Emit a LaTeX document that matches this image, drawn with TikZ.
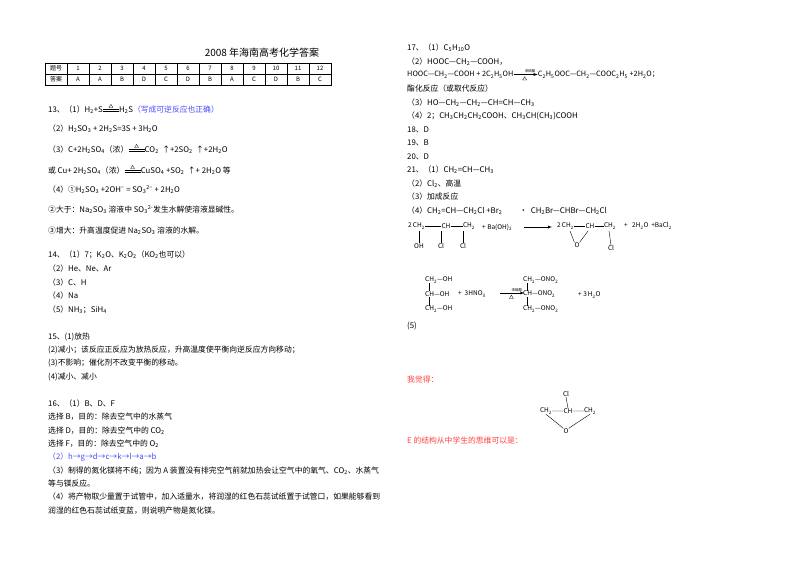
\documentclass[tikz,border=0pt]{standalone}
\usepackage{fontspec}
\setmainfont{Noto Sans CJK SC}
\newcommand{\sbs}[1]{\textsubscript{#1}}
\newcommand{\sps}[1]{\textsuperscript{#1}}
\newcommand{\heq}{\tikz[baseline=0pt,x=1pt,y=1pt]{\draw[line width=0.4pt](0,1.2)--(16,1.2) (0,3)--(16,3);\draw[line width=0.3pt](6,5)--(10,5)--(8,8.2)--cycle;}}
\newcommand{\carr}{\tikz[baseline=0pt,x=1pt,y=1pt]{\draw[-latex,line width=0.4pt](0,2.5)--(24,2.5);\node[font=\fontsize{3.5}{4}\selectfont,inner sep=0] at (11,5.5){浓硫酸};\draw[line width=0.3pt](9,-3)--(13,-3)--(11,0.3)--cycle;}}
\begin{document}
\begin{tikzpicture}[x=1pt,y=-1pt,
 txt/.style={anchor=west,inner sep=0,font=\fontsize{7.8}{9}\selectfont},
 blue/.style={text=blue!70!white},
 red/.style={text=red!75!white},
 cell/.style={inner sep=0,font=\fontsize{6}{7}\selectfont}]
\useasboundingbox[fill=white] (0,0) rectangle (800,566);
\node[inner sep=0,font=\fontsize{10}{11}\selectfont] (title) at (262,53) {2008 年海南高考化学答案};
% table
\draw[line width=0.4pt] (45,63) rectangle (331,85);
\draw[line width=0.4pt] (45,74) -- (331,74);
\foreach \i in {0,...,12} {\draw[line width=0.4pt] ({67+22*\i},63) -- ({67+22*\i},85);}
\node[cell] (h1) at (56,68.5) {题号};
\node[cell] (h2) at (56,79.5) {答案};
\foreach \n/\a [count=\i from 0] in {1/A,2/A,3/B,4/D,5/C,6/D,7/B,8/A,9/C,10/D,11/B,12/C} {
 \node[cell] (n\n) at ({78+22*\i},68.5) {\n};
 \node[cell] (a\n) at ({78+22*\i},79.5) {\a};}
% left column
\node[txt] (l1) at (48,109) {13、（1）H\sbs{2}+S\heq H\sbs{2}S\textcolor{blue!70!white}{（写成可逆反应也正确）}};
\node[txt] (l2) at (48,129) {（2）H\sbs{2}SO\sbs{3} + 2H\sbs{2}S=3S + 3H\sbs{2}O};
\node[txt] (l3) at (48,149) {（3）C+2H\sbs{2}SO\sbs{4}（浓）\heq CO\sbs{2}\ \ ↑+2SO\sbs{2}\ \ ↑+2H\sbs{2}O};
\node[txt] (l4) at (48,170) {或 Cu+ 2H\sbs{2}SO\sbs{4}（浓）\heq CuSO\sbs{4} +SO\sbs{2}\ \ ↑+ 2H\sbs{2}O 等};
\node[txt] (l5) at (48,190) {（4）①H\sbs{2}SO\sbs{3} +2OH\sps{−} = SO\sbs{3}\sps{2−} + 2H\sbs{2}O};
\node[txt] (l6) at (48,210) {②大于：Na\sbs{2}SO\sbs{3} 溶液中 SO\sbs{3}\sps{2-}发生水解使溶液显碱性。};
\node[txt] (l7) at (48,231) {③增大：升高温度促进 Na\sbs{2}SO\sbs{3} 溶液的水解。};
\node[txt] (m1) at (48,255) {14、（1）7；K\sbs{2}O、K\sbs{2}O\sbs{2}（KO\sbs{2}也可以）};
\node[txt] (m2) at (48,269) {（2）He、Ne、Ar};
\node[txt] (m3) at (48,283) {（3）C、H};
\node[txt] (m4) at (48,296) {（4）Na};
\node[txt] (m5) at (48,310) {（5）NH\sbs{3}；SiH\sbs{4}};
\node[txt] (p1) at (48,337) {15、(1)放热};
\node[txt] (p2) at (48,350) {(2)减小；该反应正反应为放热反应，升高温度使平衡向逆反应方向移动；};
\node[txt] (p3) at (48,363) {(3)不影响；催化剂不改变平衡的移动。};
\node[txt] (p4) at (48,377) {(4)减小、减小};
\node[txt] (q1) at (48,404) {16、（1）B、D、F};
\node[txt] (q2) at (48,417) {选择 B，目的：除去空气中的水蒸气};
\node[txt] (q3) at (48,431) {选择 D，目的：除去空气中的 CO\sbs{2}};
\node[txt] (q4) at (48,444) {选择 F，目的：除去空气中的 O\sbs{2}};
\node[txt,blue] (q5) at (48,457) {（2）h→g→d→c→k→l→a→b};
\node[txt] (q6) at (48,471) {（3）制得的氮化镁将不纯；因为 A 装置没有排完空气前就加热会让空气中的氧气、CO\sbs{2}、水蒸气};
\node[txt] (q7) at (48,484) {等与镁反应。};
\node[txt] (q8) at (48,497) {（4）将产物取少量置于试管中，加入适量水，将润湿的红色石蕊试纸置于试管口，如果能够看到};
\node[txt] (q9) at (48,511) {润湿的红色石蕊试纸变蓝，则说明产物是氮化镁。};
% right column
\node[txt] (r1) at (407,48) {17、（1）C\sbs{5}H\sbs{10}O};
\node[txt] (r2) at (407,62) {（2）HOOC—CH\sbs{2}—COOH，};
\node[txt,font=\fontsize{7.3}{9}\selectfont] (r3) at (407,75) {HOOC—CH\sbs{2}—COOH + 2C\sbs{2}H\sbs{5}OH\carr C\sbs{2}H\sbs{5}OOC—CH\sbs{2}—COOC\sbs{2}H\sbs{5} +2H\sbs{2}O；};
\node[txt] (r4) at (407,89) {酯化反应（或取代反应）};
\node[txt] (r5) at (407,103) {（3）HO—CH\sbs{2}—CH\sbs{2}—CH=CH—CH\sbs{3}};
\node[txt] (r6) at (407,116) {（4）2；CH\sbs{3}CH\sbs{2}CH\sbs{2}COOH、CH\sbs{3}CH(CH\sbs{3})COOH};
\node[txt] (r7) at (407,130) {18、D};
\node[txt] (r8) at (407,143) {19、B};
\node[txt] (r9) at (407,157) {20、D};
\node[txt] (r10) at (407,170) {21、（1）CH\sbs{2}=CH—CH\sbs{3}};
\node[txt] (r11) at (407,184) {（2）Cl\sbs{2}、高温};
\node[txt] (r12) at (407,197) {（3）加成反应};
\node[txt] (r13) at (407,211) {（4）CH\sbs{2}=CH—CH\sbs{2}Cl +Br\sbs{2}\hspace{2.2em}·\ \ CH\sbs{2}Br—CHBr—CH\sbs{2}Cl};
% structure equation row
\begin{scope}[every node/.style={inner sep=0,font=\fontsize{6.5}{7}\selectfont}]
\node[anchor=west] (c1) at (408,226) {2\,CH\sbs{2}};
\node (c2) at (446,226) {CH};
\node (c3) at (469,226) {CH\sbs{2}};
\node (oh1) at (419,246) {OH};
\node (cl1) at (441,246) {Cl};
\node (cl2) at (463,246) {Cl};
\draw (c1.east) -- (c2.west) (c2.east) -- (c3.west);
\draw (419,231) -- (oh1.north) (441,231) -- (cl1.north) (463,231) -- (cl2.north);
\node[anchor=west] (ba) at (482,227) {+ Ba(OH)\sbs{2}};
\coordinate (arA) at (524,227);
\coordinate (arB) at (552,227);
\draw[-latex] (arA) -- (arB);
\node[anchor=west] (e1) at (557,226) {2\,CH\sbs{2}};
\node (e3) at (590,226) {CH};
\node (e4) at (610,226) {CH\sbs{2}};
\node (eo) at (577,245) {O};
\node (ecl) at (611,248) {Cl};
\draw (e1.east) -- (e3.west) (e3.east) -- (e4.west);
\draw (570,231) -- (eo.north west) (eo.north east) -- (588,231);
\draw (609,231) -- (ecl.north);
\node[anchor=west] (w1) at (624,226) {+\ \ \ 2H\sbs{2}O\ \ +BaCl\sbs{2}};
% glycerin nitration
\node[anchor=west] (g1) at (425,280) {CH\sbs{2}—OH};
\node[anchor=west] (g2) at (425,294) {CH—OH};
\node[anchor=west] (g3) at (425,309) {CH\sbs{2}—OH};
\draw (429,283) -- (429,291) (429,297) -- (429,306);
\node[anchor=west] (hn) at (458,294) {+\ \ 3HNO\sbs{3}};
\node[anchor=west] (arr) at (500,293.5) {\carr};
\node[anchor=west] (n1) at (523,280) {CH\sbs{2}—ONO\sbs{2}};
\node[anchor=west] (n2) at (523,294) {CH—ONO\sbs{2}};
\node[anchor=west] (n3) at (523,309) {CH\sbs{2}—ONO\sbs{2}};
\draw (527,283) -- (527,291) (527,297) -- (527,306);
\node[anchor=west] (wa) at (578,295) {+\ 3\,H\sbs{2}O};
\end{scope}
\node[txt] (five) at (407,326) {(5)};
\node[txt,red] (think) at (407,380) {我觉得：};
\begin{scope}[every node/.style={inner sep=0,font=\fontsize{6.5}{7}\selectfont}]
\node (kcl) at (566,394) {Cl};
\node (k1) at (546,411) {CH\sbs{2}};
\node (k2) at (568,411) {CH};
\node (k3) at (590,411) {CH\sbs{2}};
\node (ko) at (566,431) {O};
\draw (kcl.south) -- (k2.north) (k1.east) -- (k2.west) (k2.east) -- (k3.west);
\draw (k1.south) -- (ko.north west) (ko.north east) -- (k3.south);
\end{scope}
\node[txt,red] (econc) at (407,441) {E 的结构从中学生的思维可以是：};
\end{tikzpicture}
\end{document}
